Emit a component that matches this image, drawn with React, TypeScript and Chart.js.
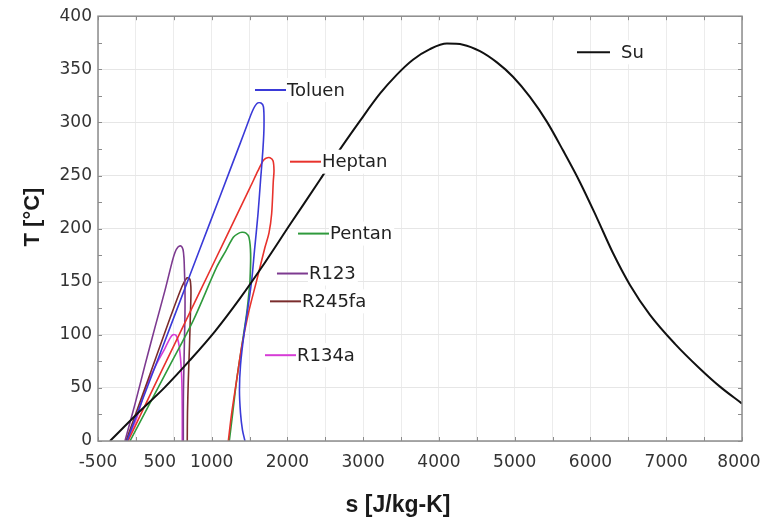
import React, { useEffect, useRef } from 'react';
import { Chart, registerables } from 'chart.js';

Chart.register(...registerables);

// ---- Data (s in J/kg-K, T in °C) ----
const suS = [-342, 15, 384, 714, 1044, 1374, 1704, 2034, 2430, 2654, 2958, 3221, 3445, 3657, 3881, 4106, 4317, 4541, 4765, 4977, 5201, 5426, 5637, 5861, 6086, 6297, 6521, 6785, 7115, 7445, 7709, 8000];
const suT = [0, 25.4, 50.7, 76.1, 103.3, 134.3, 168.1, 203.8, 246, 270.4, 301.4, 327, 345, 359, 369, 374.2, 373.2, 367.1, 356.5, 343, 324, 300.5, 273.7, 243.7, 209.9, 177, 147, 118.8, 91.5, 68.1, 51.2, 35.2];

const toluenS = [-117, 15, 318, 582, 846, 1110, 1374, 1470, 1540, 1598, 1651, 1684, 1691, 1678, 1645, 1612, 1565, 1528, 1480, 1427, 1381, 1367, 1381, 1407, 1440];
const toluenT = [0, 25.4, 82, 131.5, 181, 230.3, 279.8, 298, 311, 317.8, 318.3, 314.6, 296.7, 276, 245, 214, 179, 151, 126, 100.5, 71.4, 47.9, 26.3, 10.3, 0];

const heptanS = [-104, 186, 516, 846, 1176, 1506, 1612, 1678, 1717, 1770, 1810, 1823, 1814, 1792, 1757, 1704, 1594, 1484, 1396, 1330, 1264, 1220];
const heptanT = [0, 43.2, 92, 140.8, 189.7, 238.5, 254.5, 263.8, 266.2, 266.7, 263.8, 254.5, 245, 214, 196, 182.4, 151, 120, 88.5, 57.3, 26, 0];

const pentanS = [-78, 186, 450, 758, 1066, 1189, 1286, 1348, 1400, 1453, 1493, 1515, 1506, 1486, 1462, 1396, 1330, 1278, 1233];
const pentanT = [0, 35.7, 71.4, 113.6, 163.7, 179.3, 191.8, 195.3, 196.5, 195.8, 191.8, 176.2, 151.2, 135.2, 120, 88.5, 57.3, 26.3, 0];

const r123S = [-144, -12, 120, 252, 384, 476, 516, 556, 595, 622, 635, 641, 648, 648, 641, 635, 628, 626, 626];
const r123T = [0, 34.7, 71.4, 107, 141.8, 168, 177.5, 182.6, 183.6, 180.3, 171.8, 160.6, 141.8, 120.2, 94.8, 73.2, 47.9, 26.3, 0];

const r245faS = [-131, 54, 252, 450, 582, 635, 678, 714, 727, 721, 707, 692, 681, 678];
const r245faT = [0, 36.6, 76, 115.5, 140.8, 149.3, 153.7, 152.1, 141.8, 123, 88.5, 57.3, 26.3, 0];

const r134aS = [-117, 15, 133, 265, 384, 450, 490, 529, 562, 589, 606, 612, 612];
const r134aT = [0, 22.5, 50.7, 71.4, 87.3, 96.7, 100, 99.5, 93, 78, 57.3, 26.3, 0];

const fluidNames = ['Su', 'Toluen', 'Heptan', 'Pentan', 'R123', 'R245fa', 'R134a'];
const fluidColors = ['#111111', '#3a3ad8', '#e8322c', '#2f9a3c', '#7d3a90', '#7a2c2c', '#d63cd6'];

// label anchor (start of the short legend line), in data units
const labelS = [5822, 1572, 2034, 2140, 1862, 1770, 1704];
const labelT = [366, 330.5, 263, 195.3, 157.7, 131.5, 80.8];

const xTickLabels = [-500, 500, 1000, 2000, 3000, 4000, 5000, 6000, 7000, 8000];
const xMin = -500, xMax = 8000, xStep = 500;
const yMin = 0, yMax = 400, yStep = 50, yMinorStep = 25;

const seriesS = [suS, toluenS, heptanS, pentanS, r123S, r245faS, r134aS];
const seriesT = [suT, toluenT, heptanT, pentanT, r123T, r245faT, r134aT];

const tickFont = { family: '"DejaVu Sans", sans-serif', size: 17 };

const decorPlugin = {
  id: 'decor',
  afterDatasetsDraw(chart: any) {
    const { ctx, chartArea: ca, scales } = chart;
    const xs = scales.x, ys = scales.y;
    ctx.save();
    // frame
    ctx.strokeStyle = '#8c8c8c';
    ctx.lineWidth = 1.5;
    ctx.strokeRect(ca.left, ca.top, ca.right - ca.left, ca.bottom - ca.top);
    // inward ticks
    ctx.lineWidth = 1;
    ctx.beginPath();
    for (let v = xMin; v <= xMax; v += xStep) {
      const px = Math.round(xs.getPixelForValue(v)) + 0.5;
      ctx.moveTo(px, ca.bottom); ctx.lineTo(px, ca.bottom - 4);
      ctx.moveTo(px, ca.top); ctx.lineTo(px, ca.top + 4);
    }
    for (let v = yMin; v <= yMax; v += yMinorStep) {
      const py = Math.round(ys.getPixelForValue(v)) + 0.5;
      ctx.moveTo(ca.left, py); ctx.lineTo(ca.left + 4, py);
      ctx.moveTo(ca.right, py); ctx.lineTo(ca.right - 4, py);
    }
    ctx.stroke();

    // x tick labels
    ctx.font = '17px "DejaVu Sans", sans-serif';
    ctx.fillStyle = '#333333';
    ctx.textAlign = 'center';
    ctx.textBaseline = 'middle';
    xTickLabels.forEach((v) => {
      const shift = v === 500 ? -14 : v === xMax ? -3 : 0;
      ctx.fillText(String(v), xs.getPixelForValue(v) + shift, ca.bottom + 22);
    });

    // inline labels
    ctx.font = '18px "DejaVu Sans", sans-serif';
    ctx.textBaseline = 'middle';
    ctx.textAlign = 'left';
    fluidNames.forEach((name, i) => {
      const x0 = xs.getPixelForValue(labelS[i]);
      const y0 = ys.getPixelForValue(labelT[i]);
      const lineLen = i === 0 ? 33 : 31;
      const gap = i === 0 ? 11 : 1;
      const tx = x0 + lineLen + gap;
      const w = ctx.measureText(name).width;
      ctx.fillStyle = '#ffffff';
      ctx.fillRect(tx - 1, y0 - 12, w + 3, 24);
      ctx.strokeStyle = fluidColors[i];
      ctx.lineWidth = 2;
      ctx.beginPath();
      ctx.moveTo(x0, y0);
      ctx.lineTo(x0 + lineLen, y0);
      ctx.stroke();
      ctx.fillStyle = '#222222';
      ctx.fillText(name, tx, y0 + 1);
    });

    // axis titles
    ctx.fillStyle = '#1a1a1a';
    ctx.font = 'bold 22px "Liberation Sans", Arial, sans-serif';
    ctx.textAlign = 'center';
    ctx.textBaseline = 'middle';
    ctx.save();
    ctx.translate(33, 217);
    ctx.rotate(-Math.PI / 2);
    ctx.fillText('T [°C]', 0, 0);
    ctx.restore();
    ctx.font = 'bold 23px "Liberation Sans", Arial, sans-serif';
    ctx.fillText('s [J/kg-K]', 398, 506);
    ctx.restore();
  },
};

export default function App() {
  const ref = useRef<HTMLCanvasElement | null>(null);
  useEffect(() => {
    document.body.style.margin = '0';
    const canvas = ref.current;
    if (!canvas) return;
    const datasets = fluidNames.map((name, i) => ({
      label: name,
      data: seriesS[i].map((s, k) => ({ x: s, y: seriesT[i][k] })),
      showLine: true,
      borderColor: fluidColors[i],
      backgroundColor: fluidColors[i],
      borderWidth: i === 0 ? 2 : 1.6,
      pointRadius: 0,
      tension: 0.3,
      cubicInterpolationMode: i === 0 ? 'monotone' : 'default',
      fill: false,
    }));
    const chart = new Chart(canvas, {
      type: 'scatter',
      data: { datasets: datasets as any },
      options: {
        responsive: false,
        animation: false,
        layout: { padding: { top: 15, right: 23, left: 0, bottom: 0 } },
        plugins: { legend: { display: false }, tooltip: { enabled: false } },
        scales: {
          x: {
            type: 'linear',
            min: xMin,
            max: xMax,
            ticks: { stepSize: xStep, display: false },
            grid: { color: '#ececec', drawTicks: false, lineWidth: 1 },
            border: { display: false },
            afterFit: (axis: any) => { axis.height = 83; axis.paddingLeft = 0; axis.paddingRight = 0; },
          },
          y: {
            type: 'linear',
            min: yMin,
            max: yMax,
            ticks: { stepSize: yStep, padding: 6, color: '#333333', font: tickFont },
            grid: { color: '#e6e6e6', drawTicks: false, lineWidth: 1 },
            border: { display: false },
            afterFit: (axis: any) => { axis.width = 98; },
          },
        },
      },
      plugins: [decorPlugin],
    });
    return () => chart.destroy();
  }, []);
  return (
    <div style={{ width: 765, height: 524, background: '#fff' }}>
      <canvas ref={ref} width={765} height={524} style={{ display: 'block' }} />
    </div>
  );
}
